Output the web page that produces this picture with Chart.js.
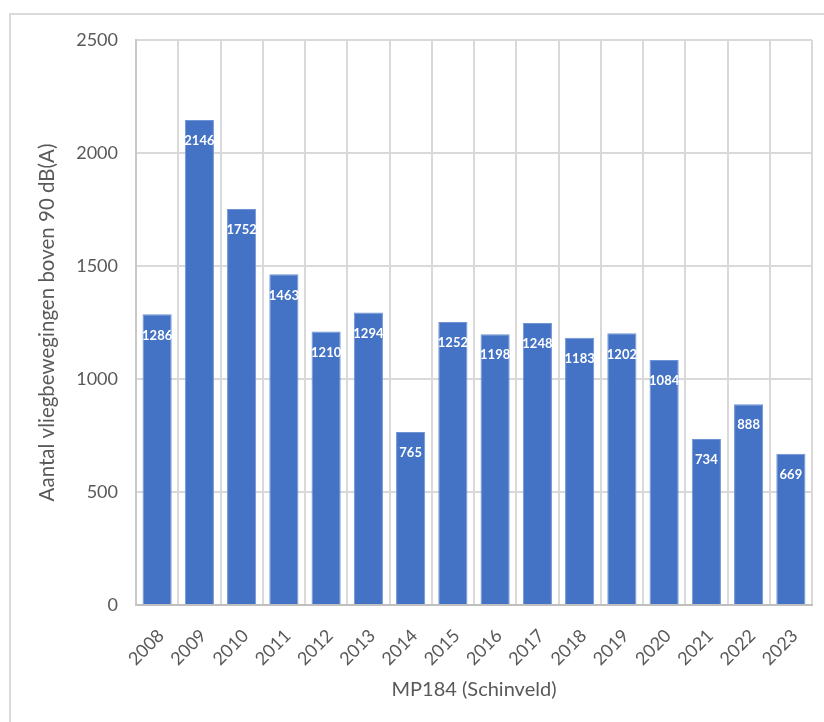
<!DOCTYPE html>
<html>
<head>
<meta charset="utf-8">
<script src="https://cdn.jsdelivr.net/npm/chart.js@4/dist/chart.umd.min.js"></script>
<style>
  html, body { margin: 0; padding: 0; background: #ffffff; }
  #wrap { position: relative; width: 824px; height: 722px; overflow: hidden; }
  #frame { position: absolute; left: 9px; top: 13px; width: 900px; height: 800px;
           border: 2px solid #d9d9d9; box-sizing: border-box; }
  canvas { position: absolute; left: 0; top: 0; }
</style>
</head>
<body>
<div id="wrap">
  <div id="frame"></div>
  <canvas id="c" width="824" height="722"></canvas>
</div>
<script>
// Yearly counts of flight movements louder than 90 dB(A) at MP184
const years = ['2008','2009','2010','2011','2012','2013','2014','2015',
               '2016','2017','2018','2019','2020','2021','2022','2023'];
const movements = [1286, 2146, 1752, 1463, 1210, 1294, 765, 1252,
                   1198, 1248, 1183, 1202, 1084, 734, 888, 669];
const yTicks = [0, 500, 1000, 1500, 2000, 2500];

const axisTitleY = 'Aantal vliegbewegingen boven 90 dB(A)';
const axisTitleX = 'MP184 (Schinveld)';

const textGray = '#595959';
const gridGray = '#d9d9d9';
const fontFamily = 'Lato, "Open Sans", sans-serif';

// White value labels just inside the top of each bar
const barValueLabels = {
  id: 'barValueLabels',
  afterDatasetsDraw(chart) {
    const ctx = chart.ctx;
    const meta = chart.getDatasetMeta(0);
    ctx.save();
    ctx.font = 'bold 13px ' + fontFamily;
    ctx.fillStyle = '#ffffff';
    ctx.textAlign = 'center';
    ctx.textBaseline = 'middle';
    meta.data.forEach((bar, i) => {
      const v = chart.data.datasets[0].data[i];
      ctx.fillText(String(v), bar.x, bar.y + 21);
    });
    ctx.restore();
  }
};

new Chart(document.getElementById('c'), {
  type: 'bar',
  data: {
    labels: years,
    datasets: [{
      data: movements,
      backgroundColor: '#4472c4',
      borderColor: '#6f93d4',
      borderWidth: 1,
      categoryPercentage: 1.0,
      barPercentage: 0.69
    }]
  },
  options: {
    responsive: false,
    animation: false,
    layout: { padding: { left: 10, right: 12, top: 40, bottom: 0 } },
    plugins: {
      legend: { display: false },
      tooltip: { enabled: false }
    },
    scales: {
      x: {
        grid: { color: gridGray, lineWidth: 2, offset: true, drawTicks: false },
        border: { color: '#bfbfbf', width: 2 },
        ticks: {
          color: textGray,
          font: { family: fontFamily, size: 18 },
          minRotation: 45,
          maxRotation: 45,
          padding: 20,
          labelOffset: 4,
          autoSkip: false
        },
        title: {
          display: true,
          text: axisTitleX,
          color: textGray,
          font: { family: fontFamily, size: 20 },
          padding: { top: 0, bottom: 20 }
        },
        afterFit(scale) {
          scale.height = 117;
          scale.paddingLeft = 0;
          scale.paddingRight = 0;
        }
      },
      y: {
        min: 0,
        max: 2500,
        afterBuildTicks(scale) { scale.ticks = yTicks.map(v => ({ value: v })); },
        grid: { color: gridGray, lineWidth: 2, drawTicks: false },
        border: { color: '#c8c8c8', width: 2 },
        ticks: {
          color: textGray,
          font: { family: fontFamily, size: 18 },
          padding: 18,
          callback: (v) => String(v)
        },
        title: {
          display: true,
          text: axisTitleY,
          color: textGray,
          font: { family: fontFamily, size: 20.5 },
          padding: { top: 25, bottom: 0 }
        },
        afterFit(scale) { scale.width = 126; }
      }
    }
  },
  plugins: [barValueLabels]
});
</script>
</body>
</html>
